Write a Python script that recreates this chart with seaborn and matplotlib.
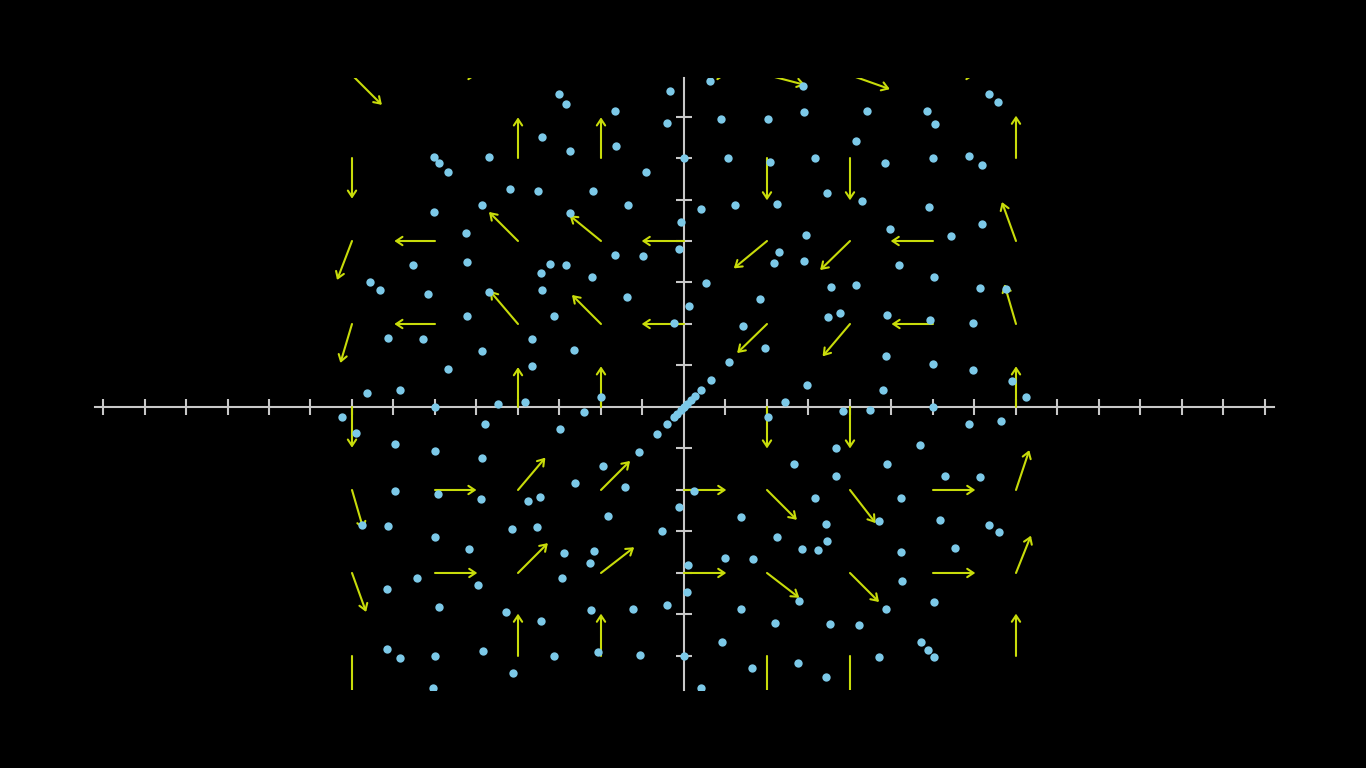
import numpy as np
import pandas as pd
import matplotlib
matplotlib.use("Agg")
import matplotlib.pyplot as plt
from matplotlib.patches import FancyArrowPatch
import seaborn as sns

# particle positions (grid units: arrows sit on integer points)
dot_x = [-1.51, -1.42, -1.71, -1.37, -3.01, -2.95, -2.84, -2.35, -2.10, -1.76,
         -2.43, -3.01, -2.63, -1.37, -0.17, 0.31, 1.43, -0.83, -0.21, 0.44,
         1.01, 1.44, -0.82, 0.00, 0.53, 1.04, -0.46, -1.10, -0.68, 0.21,
         0.61, 1.12, -0.04, 1.47, 3.68, 3.78, 2.20, 2.93, 3.02, 2.07,
         1.58, 2.42, 3.00, 3.43, 3.59, 1.72, 2.15, 2.95, 3.59, 2.48,
         3.22, -3.26, -2.61, -1.62, -1.42, -1.72, -3.78, -3.66, -3.09, -2.35,
         -1.71, -2.61, -1.57, -3.57, -3.15, -1.83, -2.43, -2.84, -1.83, -3.82,
         -3.42, -3.00, -2.24, -1.91, -0.83, -0.49, -0.06, 1.14, 1.08, 1.45,
         -1.11, 0.26, -0.69, 0.06, 0.91, -0.12, 0.71, -1.32, 0.97, 0.54,
         0.32, 0.21, 0.13, 0.08, 0.04, 0.00, -0.04, -0.08, -1.00, 1.48,
         1.22, 2.59, 3.01, 1.77, 2.07, 3.57, 3.88, 1.74, 1.88, 2.45,
         2.96, 3.48, 2.43, 3.00, 3.48, 3.95, 4.12, 2.40, 1.91, 2.24,
         3.00, -4.12, -3.95, -3.48, -3.00, -2.40, -2.43, -1.49, -3.48, -2.96,
         -2.45, -1.88, -1.74, -3.88, -3.57, -2.07, -1.77, -3.00, -2.59, -1.45,
         -1.21, -0.21, -0.32, -0.54, -0.12, -0.97, -1.31, -0.71, 0.12, -0.06,
         -0.91, -0.27, -1.09, -1.13, 0.05, 0.49, 0.83, 1.01, 1.33, 0.69,
         1.12, 1.42, 3.43, 3.82, 1.83, 2.84, 2.44, 1.83, 3.15, 3.57,
         1.58, 2.61, 2.35, 3.09, 3.67, 3.79, 1.71, 1.72, 1.62, 2.61,
         3.26, -3.58, -3.22, -2.48, -2.95, -2.15, -1.72, -1.47, -3.58, -3.42,
         -3.00, -2.42, -2.06, -1.57, -3.02, 0.04, -1.12, -0.61, -0.21, 0.69,
         1.10, 1.38, 0.46, -1.04, -0.53, 0.00, 0.82, 1.37, 0.21, 2.63,
         3.01, 2.43, 1.76, 2.11, 2.85, 2.94, 3.01, 2.35, 1.71]
dot_y = [3.77, 3.65, 3.25, 3.08, 3.01, 2.94, 2.83, 3.01, 2.63, 2.60,
         2.43, 2.35, 2.10, 2.34, 3.81, 3.93, 3.87, 3.57, 3.42, 3.47,
         3.47, 3.56, 3.14, 3.00, 3.00, 2.95, 2.83, 2.60, 2.43, 2.39,
         2.43, 2.45, 2.23, 2.07, 3.77, 3.67, 3.57, 3.57, 3.41, 3.21,
         3.00, 2.94, 3.00, 3.02, 2.92, 2.58, 2.48, 2.41, 2.20, 2.14,
         2.06, 1.71, 1.75, 1.72, 1.71, 1.62, 1.51, 1.41, 1.36, 1.38,
         1.41, 1.10, 1.10, 0.83, 0.82, 0.82, 0.68, 0.46, 0.49, 0.17,
         0.21, 0.00, 0.04, 0.06, 1.83, 1.82, 1.90, 1.87, 1.73, 1.76,
         1.57, 1.49, 1.32, 1.22, 1.30, 1.01, 0.97, 0.69, 0.71, 0.54,
         0.32, 0.21, 0.13, 0.08, 0.04, 0.00, -0.04, -0.08, 0.12, 0.27,
         0.06, 1.71, 1.57, 1.44, 1.47, 1.43, 1.42, 1.08, 1.13, 1.11,
         1.05, 1.01, 0.61, 0.52, 0.44, 0.31, 0.12, 0.21, -0.05, -0.04,
         0.00, -0.12, -0.31, -0.44, -0.53, -0.21, -0.62, -0.26, -1.01, -1.05,
         -1.11, -1.13, -1.08, -1.42, -1.43, -1.47, -1.44, -1.57, -1.71, -1.76,
         -0.06, -0.21, -0.32, -0.54, -0.12, -0.71, -0.91, -0.97, -1.01, -1.21,
         -1.31, -1.49, -1.73, -1.88, -1.90, -1.82, -1.83, -0.12, -0.69, -1.32,
         -1.57, -1.71, -0.21, -0.17, -0.49, -0.46, -0.69, -0.83, -0.83, -0.84,
         -1.10, -1.10, -1.37, -1.36, -1.42, -1.51, -1.41, -1.61, -1.72, -1.75,
         -1.70, -2.19, -2.06, -2.14, -2.41, -2.47, -2.58, -2.06, -2.92, -3.02,
         -3.00, -2.94, -3.21, -3.00, -3.39, -2.23, -2.45, -2.43, -2.39, -2.43,
         -2.60, -2.34, -2.83, -2.95, -2.99, -3.00, -3.14, -3.08, -3.39, -2.10,
         -2.35, -2.43, -2.61, -2.63, -2.83, -2.93, -3.01, -3.01, -3.25]

# vector field arrows: tail point and components
arrow_x = [-4, -3, 0, 1, 2, 3,
           -4, -2, -1, 1, 2, 4,
           -4, -3, -2, -1, 0, 1, 2, 3, 4,
           -4, -3, -2, -1, 0, 1, 2, 3, 4,
           -4, -2, -1, 1, 2, 4,
           -4, -3, -2, -1, 0, 1, 2, 3, 4,
           -4, -3, -2, -1, 0, 1, 2, 3, 4,
           -4, -2, -1, 1, 2, 4]
arrow_y = [4] * 6 + [3] * 6 + [2] * 9 + [1] * 9 + [0] * 6 + [-1] * 9 + [-2] * 9 + [-3] * 6
arrow_u = [0.36, 0.50, 0.50, 0.46, 0.48, 0.50,
           0, 0, 0, 0, 0, 0,
           -0.18, -0.49, -0.35, -0.38, -0.51, -0.40, -0.36, -0.51, -0.17,
           -0.14, -0.49, -0.34, -0.35, -0.51, -0.36, -0.33, -0.50, -0.14,
           0, 0, 0, 0, 0, 0,
           0.14, 0.50, 0.33, 0.35, 0.51, 0.36, 0.31, 0.51, 0.16,
           0.17, 0.51, 0.36, 0.40, 0.51, 0.39, 0.35, 0.51, 0.18,
           0, 0, 0, 0, 0, 0]
arrow_v = [-0.36, 0, 0, -0.12, -0.17, 0,
           -0.49, 0.49, 0.49, -0.51, -0.51, 0.51,
           -0.47, 0, 0.35, 0.31, 0, -0.33, -0.35, 0, 0.47,
           -0.47, 0, 0.40, 0.35, 0, -0.35, -0.39, 0, 0.48,
           -0.49, 0.48, 0.49, -0.50, -0.50, 0.49,
           -0.48, 0, 0.39, 0.35, 0, -0.36, -0.40, 0, 0.48,
           -0.47, 0, 0.36, 0.31, 0, -0.30, -0.35, 0, 0.45,
           -0.52, 0.51, 0.51, -0.52, -0.52, 0.51]

x_ticks = np.arange(-7, 7.01, 0.5)
y_ticks = np.arange(-3.0, 3.51, 0.5)

axis_col = "#c8c8c8"
arrow_col = "#c8dc0a"
dot_col = "#7cc9e8"

sns.set_style("dark")
plt.rcParams["axes.facecolor"] = "black"
plt.rcParams["figure.facecolor"] = "black"

fig = plt.figure(figsize=(13.66, 7.68), dpi=100)
ax = fig.add_axes([0, 78 / 768, 1, 612 / 768])

df = pd.DataFrame({"x": dot_x, "y": dot_y})
sns.scatterplot(data=df, x="x", y="y", ax=ax, color=dot_col, s=36,
                linewidth=0, zorder=4)
ax.set_xlabel("")
ax.set_ylabel("")

for s in ["top", "right"]:
    ax.spines[s].set_visible(False)
ax.spines["bottom"].set_position(("data", 0))
ax.spines["left"].set_position(("data", 0))
ax.spines["bottom"].set_bounds(-7.1, 7.11)
for s in ["bottom", "left"]:
    ax.spines[s].set_color(axis_col)
    ax.spines[s].set_linewidth(1.5)
ax.set_xticks(x_ticks)
ax.set_yticks(y_ticks)
ax.tick_params(direction="inout", length=11.5, width=1.5, colors=axis_col,
               bottom=True, left=True, labelbottom=False, labelleft=False)
ax.grid(False)

# limits last so the tick setters cannot widen them
ax.set_xlim(-8.241, 8.217)
ax.set_ylim(-3.41, 3.964)

for x0, y0, u, v in zip(arrow_x, arrow_y, arrow_u, arrow_v):
    p = FancyArrowPatch((x0, y0), (x0 + u, y0 + v),
                        arrowstyle="->,head_length=0.45,head_width=0.3",
                        mutation_scale=10, lw=1.5, color=arrow_col,
                        shrinkA=0, shrinkB=0, zorder=3)
    ax.add_patch(p)

fig.savefig("out.png", dpi=100, facecolor="black")
